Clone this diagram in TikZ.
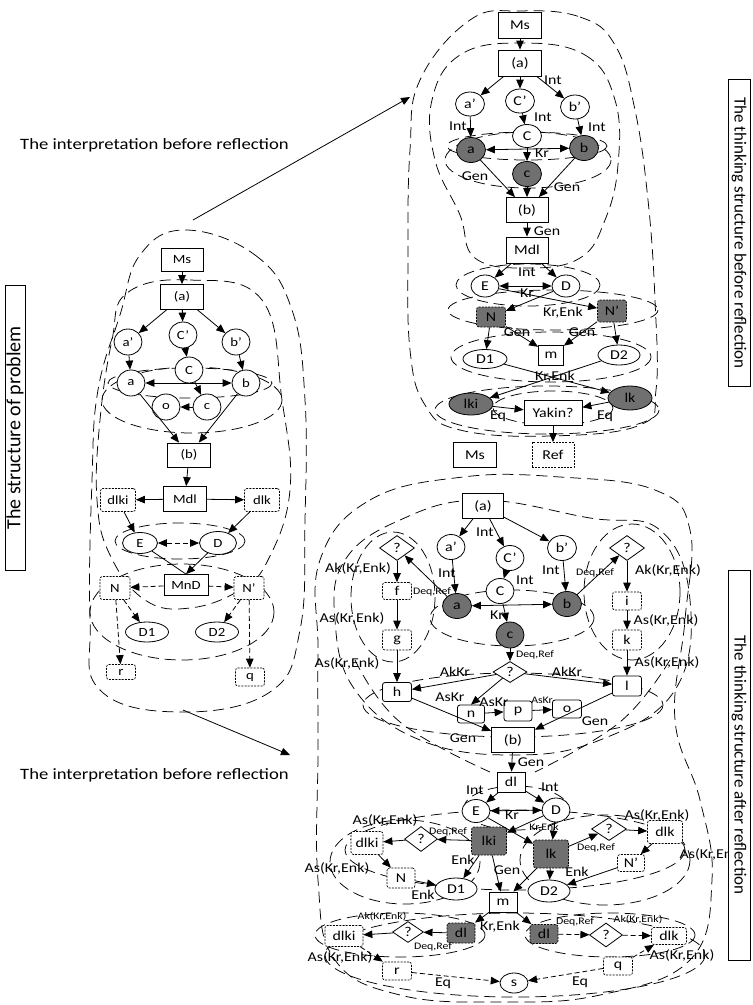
\documentclass[tikz,border=0pt]{standalone}
\usepackage{fontspec}
\setmainfont{Carlito}[FakeStretch=1.18]
\newfontfamily\vfont{Carlito}
\usetikzlibrary{arrows.meta,shapes.geometric}
\definecolor{gr}{RGB}{112,112,112}
\begin{document}
\begin{tikzpicture}[x=1pt,y=-1pt,
  every node/.style={inner sep=0pt,font=\fontsize{13.5}{14}\selectfont},
  ar/.style={-{Triangle[length=9pt,width=7.5pt]},line width=0.8pt},
  dar/.style={{Triangle[length=9pt,width=7.5pt]}-{Triangle[length=9pt,width=7.5pt]},line width=0.8pt},
  sbox/.style={draw,fill=white,line width=0.8pt,minimum width=43pt,minimum height=25pt},
  circ/.style={draw,fill=white,ellipse,line width=0.8pt,minimum width=29pt,minimum height=25pt},
  gcirc/.style={circ,fill=gr},
  dbox/.style={draw,fill=white,dash pattern=on 2pt off 1.2pt,rounded corners=2.5pt,line width=0.7pt,minimum width=29pt,minimum height=18pt},
  gbox/.style={dbox,fill=gr},
  rbox/.style={draw,fill=white,rounded corners=2.5pt,line width=0.8pt,minimum width=29pt,minimum height=19pt},
  dia/.style={draw,fill=white,diamond,aspect=1.4,line width=0.8pt,minimum width=35pt,minimum height=25pt},
  lab/.style={font=\fontsize{13.5}{14}\selectfont},
  slab/.style={font=\fontsize{10}{11}\selectfont},
  cont/.style={dash pattern=on 11pt off 6pt,line width=0.75pt},
  dsh/.style={dash pattern=on 5pt off 3pt},
  vlab/.style={draw,line width=0.7pt,fill=white,font=\vfont\fontsize{17}{19}\selectfont}
]
\useasboundingbox (0,0) rectangle (753,1005);

%% ---------------- contours: left structure
\draw[cont] plot[smooth cycle,tension=0.7] coordinates {(185,230) (255,255) (292,310) (305,400) (305,520) (300,630) (270,692) (180,712) (100,690) (90,620) (92,480) (98,390) (120,315) (140,255)};
\draw[cont] plot[smooth cycle,tension=0.7] coordinates {(127,293) (190,280) (262,300) (282,400) (290,490) (268,560) (240,590) (190,608) (145,600) (110,555) (97,500) (100,420) (112,340)};
\draw[cont] (192,400) ellipse [x radius=90, y radius=33];
\draw[cont] (190,383) ellipse [x radius=82, y radius=15];
\draw[cont] (180,541) ellipse [x radius=65, y radius=18];
\draw[cont] (182,612) ellipse [x radius=92, y radius=48];

%% ---------------- contours: top right
\draw[cont] plot[smooth cycle,tension=0.7] coordinates {(520,11) (580,17) (615,45) (635,110) (648,200) (655,300) (656,390) (640,425) (550,436) (460,430) (425,405) (410,350) (408,250) (410,150) (420,80) (470,20)};
\draw[cont] plot[smooth cycle,tension=0.7] coordinates {(520,43) (585,55) (615,100) (618,165) (605,220) (580,258) (527,268) (475,258) (460,215) (435,160) (432,100) (460,55)};
\draw[cont] (528,160) ellipse [x radius=83, y radius=28];
\draw[cont] (527,146) ellipse [x radius=80, y radius=14];
\draw[cont] (528,285) ellipse [x radius=72, y radius=21];
\draw[cont] (553,310) ellipse [x radius=105, y radius=20];
\draw[cont] (551,357) ellipse [x radius=100, y radius=25];
\draw[cont] (547,410) ellipse [x radius=112, y radius=24];
\draw[cont] (553,408) ellipse [x radius=60, y radius=17];

%% ---------------- contours: bottom right
\draw[cont] plot[smooth cycle,tension=0.7] coordinates {(320,560) (370,500) (463,477) (560,477) (655,490) (690,530) (685,620) (675,720) (700,800) (712,880) (690,960) (600,995) (500,1002) (400,995) (335,960) (318,880) (318,750) (318,650)};
\draw[cont] plot[smooth cycle,tension=0.7] coordinates {(345,560) (400,520) (480,500) (590,518) (660,530) (690,600) (675,690) (600,740) (513,755) (420,740) (355,690) (335,620)};
\draw[cont] (393,597) ellipse [x radius=42, y radius=65];
\draw[cont] (632,592) ellipse [x radius=48, y radius=68];
\draw[cont] (512,618) ellipse [x radius=82, y radius=28];
\draw[cont] (513,705) ellipse [x radius=150, y radius=32];
\draw[cont] plot[smooth,tension=0.7] coordinates {(355,660) (400,722) (490,772)};
\draw[cont] plot[smooth,tension=0.7] coordinates {(670,660) (620,722) (535,772)};
\draw[cont] (516,808) ellipse [x radius=52, y radius=22];
\draw[cont] (515,850) ellipse [x radius=170, y radius=40];
\draw[cont] (405,862) ellipse [x radius=75, y radius=42];
\draw[cont] (605,860) ellipse [x radius=85, y radius=45];
\draw[cont] (515,955) ellipse [x radius=190, y radius=42];
\draw[cont] (400,935) ellipse [x radius=85, y radius=22];
\draw[cont] (610,935) ellipse [x radius=85, y radius=22];

%% ---------------- left structure nodes
\begin{scope}[every node/.append style={font=\fontsize{12.5}{13}\selectfont}]
\node[sbox,minimum width=42pt,minimum height=23pt] (LMs) at (182,260) {Ms};
\node[sbox] (La) at (182,297) {(a)};
\node[circ,minimum width=28pt,minimum height=26pt] (Lap) at (128,342) {a'};
\node[circ,minimum width=28pt,minimum height=26pt] (Lcp) at (183,335) {C'};
\node[circ,minimum width=28pt,minimum height=26pt] (Lbp) at (236,342) {b'};
\node[circ,minimum width=28pt,minimum height=26pt] (LC) at (189,370) {C};
\node[circ,minimum width=28pt,minimum height=26pt] (Lan) at (131,383) {a};
\node[circ,minimum width=28pt,minimum height=26pt] (Lbn) at (246,383) {b};
\node[circ,minimum width=28pt,minimum height=26pt] (Lo) at (166,407) {o};
\node[circ,minimum width=28pt,minimum height=26pt] (Lc) at (207,407) {c};
\node[sbox,minimum height=24pt] (Lb) at (189,455) {(b)};
\node[sbox] (LMdl) at (185,499) {Mdl};
\node[dbox,minimum width=35pt,minimum height=23pt] (Ldlki) at (118,500) {dlki};
\node[dbox,minimum width=35pt,minimum height=23pt] (Ldlk) at (262,500) {dlk};
\node[circ,minimum width=35pt,minimum height=21pt] (LE) at (140,543) {E};
\node[circ,minimum width=37pt,minimum height=23pt] (LD) at (218,543) {D};
\node[sbox,minimum width=44pt,minimum height=21pt] (LMnD) at (186,585) {MnD};
\node[dbox,minimum width=30pt,minimum height=23pt] (LN) at (115,588) {N};
\node[dbox,minimum width=30pt,minimum height=23pt] (LNp) at (249,588) {N'};
\node[circ,minimum width=43pt,minimum height=20pt] (LD1) at (147,632) {D1};
\node[circ,minimum width=43pt,minimum height=20pt] (LD2) at (217,632) {D2};
\node[dbox,minimum height=15pt] (Lr) at (121,672) {r};
\node[dbox,minimum height=18pt] (Lq) at (250,677) {q};
\end{scope}
\draw[ar] (LMs) -- (La);
\draw[ar] (La) -- (Lap);
\draw[ar] (La) -- (Lcp);
\draw[ar] (La) -- (Lbp);
\draw[ar] (Lap) -- (Lan);
\draw[ar] (Lcp) -- (LC);
\draw[ar] (Lbp) -- (Lbn);
\draw[dar] (Lan) -- (Lbn);
\draw[ar] (LC) -- (Lc);
\draw[ar] (Lc) -- (Lo);
\draw[ar] (Lan) -- (Lb);
\draw[ar] (Lbn) -- (Lb);
\draw[ar] (Lb) -- (LMdl);
\draw[ar] (LMdl) -- (Ldlki);
\draw[ar] (LMdl) -- (Ldlk);
\draw[ar] (Ldlki) -- (LE);
\draw[ar] (Ldlk) -- (LD);
\draw[dar,dsh] (LE) -- (LD);
\draw[ar] (LD) -- (LMnD.north);
\draw[line width=0.8pt] (LE) -- (LMnD.north);
\draw[ar,dsh] (LMnD) -- (LN);
\draw[ar,dsh] (LMnD) -- (LNp);
\draw[ar,dsh] (LN) -- (LD1);
\draw[ar,dsh] (LNp) -- (LD2);
\draw[ar,dsh] (LN) -- (Lr);
\draw[ar,dsh] (LNp) -- (Lq);

%% ---------------- top right nodes
\node[sbox,minimum height=26pt] (TMs) at (520,25) {Ms};
\node[sbox,minimum height=26pt] (Ta) at (520,63) {(a)};
\node[circ,minimum height=24pt] (Tap) at (470,104) {a'};
\node[circ,minimum height=24pt] (Tcp) at (520,101) {C'};
\node[circ,minimum height=24pt] (Tbp) at (575,107) {b'};
\node[circ,minimum height=23pt] (TC) at (527,136) {C};
\node[gcirc] (Tan) at (471,150) {a};
\node[gcirc] (Tbn) at (584,148) {b};
\node[gcirc] (Tc) at (527,174) {c};
\node[sbox,minimum width=42pt] (Tb) at (527,210) {(b)};
\node[sbox,minimum width=42pt,minimum height=26pt] (TMdl) at (527,250) {Mdl};
\node[circ,minimum width=28pt,minimum height=22pt] (TE) at (485,286) {E};
\node[circ,minimum width=28pt,minimum height=22pt] (TD) at (566,286) {D};
\node[gbox,minimum height=20pt] (TN) at (491,317) {N};
\node[gbox,minimum height=22pt] (TNp) at (612,311) {N'};
\node[circ,minimum width=44pt,minimum height=19pt] (TD1) at (485,359) {D1};
\node[sbox,minimum width=25pt,minimum height=20pt] (Tm) at (551,355) {m};
\node[circ,minimum width=42pt,minimum height=20pt] (TD2) at (619,355) {D2};
\node[gcirc,minimum width=44pt,minimum height=22pt] (Tlki) at (471,404) {lki};
\node[sbox,minimum width=58pt] (TY) at (553,413) {Yakin?};
\node[gcirc,minimum width=44pt,minimum height=24pt] (Tlk) at (630,398) {lk};
\node[sbox] (TMs2) at (475,455) {Ms};
\node[draw,fill=white,dash pattern=on 2pt off 1.2pt,line width=0.7pt,minimum width=42pt,minimum height=25pt] (TRef) at (553,455) {Ref};

\draw[ar] (TMs) -- (Ta);
\draw[ar] (Ta) -- (Tap);
\draw[ar] (Ta) -- (Tcp);
\draw[ar] (Ta) -- (Tbp);
\draw[ar] (Tap) -- (Tan);
\draw[ar] (Tcp) -- (TC);
\draw[ar] (Tbp) -- (Tbn);
\draw[dar] (Tan) -- (Tbn);
\draw[ar] (TC) -- (Tc);
\draw[ar] (Tan) -- (Tb);
\draw[ar] (Tc) -- (Tb);
\draw[ar] (Tbn) -- (Tb);
\draw[ar] (Tb) -- (TMdl);
\draw[ar] (TMdl) -- (TE);
\draw[ar] (TMdl) -- (TD);
\draw[dar] (TE) -- (TD);
\draw[ar] (TD) -- (TN);
\draw[ar] (TE) -- (TNp);
\draw[ar] (TN) -- (TD1);
\draw[ar] (TN) -- (Tm);
\draw[ar] (TNp) -- (Tm);
\draw[ar] (TNp) -- (TD2);
\draw[ar] (TD1) -- (Tlk);
\draw[ar] (TD2) -- (Tlki);
\draw[ar] (Tlki) -- (TY);
\draw[ar] (Tlk) -- (TY);
\draw[ar] (TY) -- (TRef);

\node[lab] (t1) at (553,80) {Int};
\node[lab] (t2) at (543,117) {Int};
\node[lab] (t3) at (458,126) {Int};
\node[lab] (t4) at (597,127) {Int};
\node[lab] (t5) at (542,153) {Kr};
\node[lab] (t6) at (475,176) {Gen};
\node[lab] (t7) at (567,187) {Gen};
\node[lab] (t8) at (547,231) {Gen};
\node[lab] (t9) at (527,272) {Int};
\node[lab] (t10) at (527,293) {Kr};
\node[lab] (t11) at (563,313) {Kr,Enk};
\node[lab] (t12) at (517,332) {Gen};
\node[lab] (t13) at (582,332) {Gen};
\node[lab] (t14) at (555,377) {Kr,Enk};
\node[lab] (t15) at (498,416) {Eq};
\node[lab] (t16) at (605,416) {Eq};

%% ---------------- bottom right nodes
\node[sbox,minimum width=41pt] (Ba) at (483,506) {(a)};
\node[dia] (Bql) at (397,548) {?};
\node[dia] (Bqr) at (627,548) {?};
\node[circ,minimum width=28pt] (Bap) at (451,547) {a'};
\node[circ,minimum width=28pt] (Bcp) at (510,558) {C'};
\node[circ,minimum width=29pt] (Bbp) at (562,548) {b'};
\node[circ,minimum width=28pt] (BC) at (500,591) {C};
\node[gcirc] (Ban) at (457,606) {a};
\node[gcirc] (Bbn) at (567,604) {b};
\node[gcirc,minimum width=28pt,minimum height=26pt] (Bc) at (510,635) {c};
\node[dbox,minimum height=17pt] (Bf) at (397,591) {f};
\node[dbox,minimum height=20pt] (Bg) at (397,640) {g};
\node[dbox] (Bi) at (627,601) {i};
\node[dbox,minimum height=20pt] (Bk) at (627,640) {k};
\node[dia,minimum width=34pt,minimum height=21pt] (Bqm) at (510,672) {?};
\node[rbox] (Bh) at (397,692) {h};
\node[rbox,minimum height=20pt] (Bl) at (627,686) {l};
\node[rbox,minimum width=27pt,minimum height=18pt] (Bn) at (471,714) {n};
\node[rbox,minimum width=28pt,minimum height=20pt] (Bp) at (518,711) {p};
\node[rbox,minimum height=18pt] (Bo) at (567,709) {o};
\node[sbox] (Bb) at (513,740) {(b)};
\node[sbox,minimum width=28pt,minimum height=20pt] (Bdl) at (511,782) {dl};
\node[circ,minimum width=28pt,minimum height=23pt] (BE) at (476,811) {E};
\node[circ,minimum width=28pt,minimum height=24pt] (BD) at (556,810) {D};
\node[gbox,minimum width=35pt,minimum height=28pt] (Blki) at (489,841) {lki};
\node[gbox,minimum width=35pt,minimum height=28pt] (Blk) at (551,854) {lk};
\node[dia,minimum width=33pt] (Bql2) at (421,839) {?};
\node[dbox,minimum width=32pt,minimum height=23pt] (Bdlki) at (367,843) {dlki};
\node[dia,minimum height=23pt] (Bqr2) at (609,829) {?};
\node[dbox,minimum width=35pt,minimum height=23pt] (Bdlk) at (665,832) {dlk};
\node[dbox,minimum width=27pt,minimum height=17pt] (BNp) at (631,863) {N'};
\node[dbox,minimum width=28pt,minimum height=20pt] (BN) at (401,878) {N};
\node[circ,minimum width=42pt,minimum height=22pt] (BD1) at (456,889) {D1};
\node[circ,minimum width=42pt,minimum height=22pt] (BD2) at (549,891) {D2};
\node[sbox,minimum width=28pt,minimum height=20pt] (Bm) at (503,902) {m};
\node[gbox,minimum width=28pt,minimum height=20pt] (Bdll) at (461,933) {dl};
\node[gbox,minimum width=28pt,minimum height=19pt] (Bdlr) at (544,934) {dl};
\node[dia,minimum width=31pt,minimum height=21pt] (Bql3) at (408,932) {?};
\node[dbox,minimum width=38pt,minimum height=21pt] (Bdlki2) at (344,936) {dlki};
\node[dia,minimum width=33pt,minimum height=24pt] (Bqr3) at (606,935) {?};
\node[dbox,minimum width=35pt,minimum height=17pt] (Bdlk2) at (669,936) {dlk};
\node[dbox] (Br) at (397,971) {r};
\node[dbox] (Bq) at (618,966) {q};
\node[circ,minimum width=28pt,minimum height=20pt] (Bs) at (514,983) {s};

\draw[ar] (Ba) -- (Bap);
\draw[ar] (Ba) -- (Bcp);
\draw[ar] (Ba) -- (Bbp);
\draw[ar] (Bap) -- (Ban);
\draw[ar] (Bcp) -- (BC);
\draw[ar] (Bbp) -- (Bbn);
\draw[ar] (Bql) -- (Bf);
\draw[ar] (Bf) -- (Bg);
\draw[ar] (Bg) -- (Bh);
\draw[ar] (Bqr) -- (Bi);
\draw[ar] (Bi) -- (Bk);
\draw[ar] (Bk) -- (Bl);
\draw[ar] (Ban) -- (Bql);
\draw[ar] (Bbn) -- (Bqr);
\draw[dar] (Ban) -- (Bbn);
\draw[ar] (BC) -- (Bc);
\draw[ar] (Bc) -- (Bqm);
\draw[ar] (Bqm) -- (Bh);
\draw[ar] (Bqm) -- (Bl);
\draw[ar] (Bqm) -- (Bn.north);
\draw[ar] (Bn) -- (Bp);
\draw[ar] (Bp) -- (Bo);
\draw[ar] (Bh) -- (Bb);
\draw[ar] (Bl) -- (Bb);
\draw[ar] (Bb) -- (Bdl);
\draw[ar] (Bdl) -- (BE);
\draw[ar] (Bdl) -- (BD);
\draw[dar] (BE) -- (BD);
\draw[ar] (BD) -- (Blki);
\draw[ar] (BE) -- (Blk);
\draw[ar] (BD) -- (Blk);
\draw[ar] (Blki) -- (Bql2);
\draw[ar] (Bql2) -- (Bdlki);
\draw[ar] (Blk) -- (Bqr2);
\draw[ar] (Bqr2) -- (Bdlk);
\draw[ar] (Bdlki) -- (BN);
\draw[ar] (Bdlk) -- (BNp);
\draw[ar] (BN) -- (BD1);
\draw[ar] (Blki) -- (BD1);
\draw[ar] (Blk) -- (BD2);
\draw[ar] (BNp) -- (BD2);
\draw[ar] (Blki) -- (Bm);
\draw[ar] (Blk) -- (Bm);
\draw[ar] (Bm) -- (Bdll);
\draw[ar] (Bm) -- (Bdlr);
\draw[ar] (Bdll) -- (Bql3);
\draw[ar] (Bql3) -- (Bdlki2);
\draw[ar,dsh] (Bdlr) -- (Bqr3);
\draw[ar,dsh] (Bqr3) -- (Bdlk2);
\draw[ar,dsh] (Bdlki2) -- (Br);
\draw[ar,dsh] (Bq) -- (Bdlk2);
\draw[ar,dsh] (Br) -- (Bs);
\draw[ar,dsh] (Bq) -- (Bs);

\node[lab] (b1) at (485,532) {Int};
\node[lab] (b2) at (447,573) {Int};
\node[lab] (b3) at (525,580) {Int};
\node[lab] (b4) at (551,570) {Int};
\node[lab] (b5) at (358,568) {Ak(Kr,Enk)};
\node[lab] (b6) at (352,618) {As(Kr,Enk)};
\node[lab] (b7) at (347,663) {As(Kr,Enk)};
\node[lab] (b8) at (668,570) {Ak(Kr,Enk)};
\node[lab] (b9) at (666,620) {As(Kr,Enk)};
\node[lab] (b10) at (667,662) {As(Kr,Enk)};
\node[slab] (b11) at (432,592) {Deq,Ref};
\node[slab] (b12) at (595,573) {Deq,Ref};
\node[lab] (b13) at (497,615) {Kr};
\node[slab] (b14) at (535,655) {Deq,Ref};
\node[lab] (b15) at (455,672) {AkKr};
\node[lab] (b16) at (567,672) {AkKr};
\node[lab] (b17) at (450,697) {AsKr};
\node[lab] (b18) at (494,702) {AsKr};
\node[slab] (b19) at (542,700) {AsKr};
\node[lab] (b20) at (595,721) {Gen};
\node[lab] (b21) at (463,738) {Gen};
\node[lab] (b22) at (531,762) {Gen};
\node[lab] (b23) at (475,790) {Int};
\node[lab] (b24) at (550,787) {Int};
\node[lab] (b25) at (512,815) {Kr};
\node[slab] (b26) at (544,828) {Kr,Enk};
\node[slab] (b27) at (448,832) {Deq,Ref};
\node[lab] (b28) at (385,820) {As(Kr,Enk)};
\node[lab] (b29) at (657,815) {As(Kr,Enk)};
\node[slab] (b30) at (596,848) {Deq,Ref};
\node[lab] (b31) at (712,854) {As(Kr,Enk)};
\node[lab] (b32) at (337,868) {As(Kr,Enk)};
\node[lab] (b33) at (463,860) {Enk};
\node[lab] (b34) at (507,870) {Gen};
\node[lab] (b35) at (577,872) {Enk};
\node[lab] (b36) at (423,895) {Enk};
\node[slab] (b37) at (382,917) {Ak(Kr,Enk)};
\node[slab] (b38) at (433,947) {Deq,Ref};
\node[lab] (b39) at (500,927) {Kr,Enk};
\node[slab] (b40) at (575,922) {Deq,Ref};
\node[slab] (b41) at (638,920) {Ak(Kr,Enk)};
\node[lab] (b42) at (682,955) {As(Kr,Enk)};
\node[lab] (b43) at (340,957) {As(Kr,Enk)};
\node[lab] (b44) at (443,983) {Eq};
\node[lab] (b45) at (580,982) {Eq};

%% ---------------- captions and side labels
\node[font=\fontsize{15.8}{18}\selectfont,anchor=west] (cap1) at (20,145) {The interpretation before reflection};
\node[font=\fontsize{15.8}{18}\selectfont,anchor=west] (cap2) at (20,775) {The interpretation before reflection};
\coordinate (p1) at (193,220);
\coordinate (p2) at (410,97);
\coordinate (p3) at (183,710);
\coordinate (p4) at (290,755);
\draw[ar] (p1) -- (p2);
\draw[ar] (p3) -- (p4);
\node[vlab,rotate=90,minimum width=285pt,minimum height=20pt,font=\vfont\fontsize{20}{22}\selectfont] (vL) at (15,428) {The structure of problem};
\node[vlab,rotate=-90,minimum width=307pt,minimum height=22pt] (vR1) at (739,233) {The thinking structure before reflection};
\node[vlab,rotate=-90,minimum width=390pt,minimum height=22pt] (vR2) at (739,765) {The thinking structure after reflection};
\end{tikzpicture}
\end{document}
